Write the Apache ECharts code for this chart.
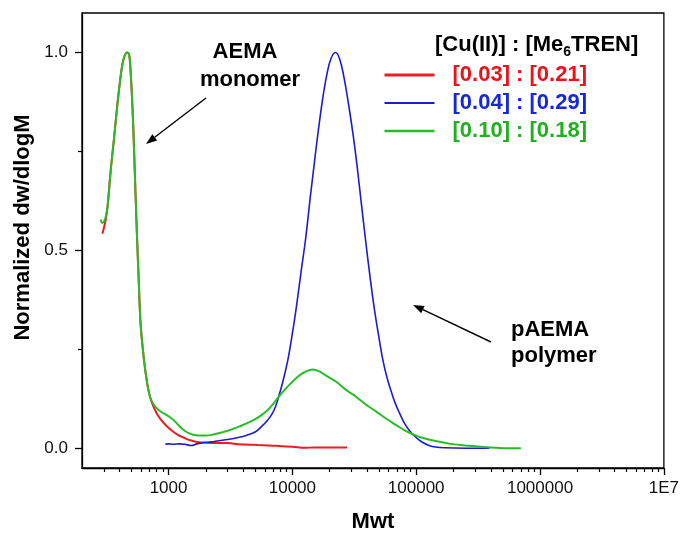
<!DOCTYPE html>
<html>
<head>
<meta charset="utf-8">
<script src="https://cdn.jsdelivr.net/npm/echarts@6/dist/echarts.min.js"></script>
<style>
  html, body { margin: 0; padding: 0; background: #fff; }
  #chart { width: 682px; height: 538px; }
</style>
</head>
<body>
<div id="chart"></div>
<script>
// GPC traces: [molecular weight, normalized dw/dlogM]
const redTrace = [
  [292, 0.542], [300, 0.556], [311, 0.578], [322, 0.612], [340, 0.698], [362, 0.780],
  [385, 0.865], [410, 0.940], [422, 0.966], [440, 0.990], [463, 1.000], [480, 0.995],
  [492, 0.960], [508, 0.880], [523, 0.781], [540, 0.650], [557, 0.530], [575, 0.420],
  [593, 0.320], [620, 0.250], [650, 0.195], [680, 0.155], [713, 0.127], [760, 0.103],
  [810, 0.086], [880, 0.070], [960, 0.057], [1060, 0.045], [1200, 0.033], [1320, 0.027],
  [1500, 0.020], [1700, 0.016], [2000, 0.014], [2500, 0.013], [3000, 0.013], [3700, 0.010],
  [4500, 0.009], [5300, 0.008], [6500, 0.007], [8200, 0.005], [10000, 0.004], [12600, 0.001],
  [15000, 0.002], [20000, 0.002], [27600, 0.002]
];
const blueTrace = [
  [940, 0.010], [1000, 0.011], [1100, 0.010], [1220, 0.011], [1350, 0.010], [1520, 0.007],
  [1700, 0.011], [1900, 0.014], [2200, 0.016], [2550, 0.019], [3000, 0.022], [3650, 0.027],
  [4300, 0.033], [5000, 0.041], [5650, 0.055], [6200, 0.068], [6800, 0.085], [7300, 0.105],
  [7750, 0.130], [8400, 0.170], [9150, 0.220], [10000, 0.290], [10800, 0.360], [11800, 0.450],
  [12800, 0.530], [13900, 0.630], [14900, 0.710], [16000, 0.790], [17500, 0.880], [19000, 0.945],
  [20500, 0.985], [22300, 1.000], [24000, 0.985], [26000, 0.940], [28400, 0.870], [31000, 0.790],
  [33400, 0.710], [36000, 0.620], [39200, 0.520], [42500, 0.430], [46000, 0.350], [50000, 0.280],
  [54000, 0.220], [58500, 0.175], [63600, 0.138], [68000, 0.112], [73000, 0.090], [80000, 0.064],
  [88000, 0.045], [96000, 0.032], [105000, 0.021], [115000, 0.013], [127000, 0.007],
  [143000, 0.003], [170000, 0.001], [250000, 0.000], [390000, 0.000]
];
const greenTrace = [
  [283, 0.578], [292, 0.569], [303, 0.575], [311, 0.585], [322, 0.612], [340, 0.698],
  [362, 0.780], [385, 0.865], [410, 0.940], [422, 0.966], [440, 0.990], [463, 1.000],
  [480, 0.995], [492, 0.960], [508, 0.880], [523, 0.781], [540, 0.650], [557, 0.530],
  [575, 0.420], [593, 0.320], [620, 0.250], [650, 0.195], [680, 0.155], [713, 0.127],
  [760, 0.110], [810, 0.100], [880, 0.091], [950, 0.085], [1020, 0.079], [1100, 0.071],
  [1180, 0.061], [1280, 0.050], [1400, 0.041], [1550, 0.035], [1750, 0.032], [2000, 0.032],
  [2250, 0.034], [2700, 0.040], [3200, 0.047], [3800, 0.056], [4500, 0.066], [5300, 0.078],
  [6300, 0.096], [7000, 0.112], [7750, 0.130], [8800, 0.150], [9800, 0.165], [11000, 0.180],
  [12500, 0.192], [14700, 0.199], [16500, 0.194], [19000, 0.182], [22600, 0.168],
  [27000, 0.148], [32700, 0.130], [39000, 0.111], [47300, 0.093], [57000, 0.075],
  [68500, 0.059], [80000, 0.046], [93000, 0.036], [110000, 0.027], [143000, 0.018],
  [190000, 0.011], [266000, 0.006], [350000, 0.003], [450000, 0.001], [560000, 0.000],
  [700000, 0.000]
];

const seriesNames = ['[0.03] : [0.21]', '[0.04] : [0.29]', '[0.10] : [0.18]'];
const seriesColors = ['#EC1C24', '#1C1CCF', '#27BD27'];
const seriesTextColors = ['#E8141C', '#1428DC', '#20B020'];

const xTickValues = [1000, 10000, 100000, 1000000, 10000000];
const xTickLabels = ['1000', '10000', '100000', '1000000', '1E7'];
const xMinorTicks = [300, 400, 500, 600, 700, 800, 900,
  2000, 3000, 4000, 5000, 6000, 7000, 8000, 9000,
  20000, 30000, 40000, 50000, 60000, 70000, 80000, 90000,
  200000, 300000, 400000, 500000, 600000, 700000, 800000, 900000,
  2000000, 3000000, 4000000, 5000000, 6000000, 7000000, 8000000, 9000000];
const yTickValues = [0, 0.5, 1.0];
const yMinorTicks = [0.25, 0.75];

const FONT = '"Liberation Sans", Arial, Helvetica, sans-serif';

const chart = echarts.init(document.getElementById('chart'), null, { renderer: 'canvas' });

function labelFor(v) {
  let best = 0;
  for (let i = 1; i < xTickValues.length; i++) {
    if (Math.abs(Math.log10(v) - Math.log10(xTickValues[i])) <
        Math.abs(Math.log10(v) - Math.log10(xTickValues[best]))) best = i;
  }
  return xTickLabels[best];
}

// arrow drawn as a line with a filled head at (x2, y2)
function arrow(x1, y1, x2, y2) {
  const ang = Math.atan2(y2 - y1, x2 - x1);
  const L = 11, W = 4;
  const bx = x2 - L * Math.cos(ang), by = y2 - L * Math.sin(ang);
  const px = -Math.sin(ang) * W, py = Math.cos(ang) * W;
  return [
    { type: 'line', shape: { x1: x1, y1: y1, x2: bx, y2: by },
      style: { stroke: '#000', lineWidth: 1.4 }, z: 50 },
    { type: 'polygon', shape: { points: [[x2, y2], [bx + px, by + py], [bx - px, by - py]] },
      style: { fill: '#000' }, z: 50 }
  ];
}

function note(text, x, y, align) {
  return { type: 'text', z: 50,
    style: { text: text, x: x, y: y, fill: '#000', align: align,
      verticalAlign: 'middle', font: 'bold 22px ' + FONT } };
}

const option = {
  backgroundColor: '#fff',
  animation: false,
  grid: { left: 82, right: 16, top: 13, bottom: 66, show: true,
    borderColor: '#000', borderWidth: 1.3, backgroundColor: 'transparent' },
  title: {
    text: '{b|[Cu(II)] : [Me}{s|6}{b|TREN]}',
    left: 435, top: 31, padding: 0,
    textStyle: {
      rich: {
        b: { fontSize: 22, fontWeight: 'bold', fontFamily: FONT, color: '#000', lineHeight: 28 },
        s: { fontSize: 14, fontWeight: 'bold', fontFamily: FONT, color: '#000', lineHeight: 14, verticalAlign: 'bottom' }
      }
    }
  },
  legend: {
    orient: 'vertical', left: 383, top: 64, padding: 0,
    itemWidth: 50, itemHeight: 14, itemGap: 6,
    selectedMode: false,
    textStyle: { fontSize: 22, fontWeight: 'bold', fontFamily: FONT, lineHeight: 22, padding: [0, 0, 0, 13] },
    data: seriesNames.map((n, i) => ({ name: n, textStyle: { color: seriesTextColors[i] },
      itemStyle: { opacity: 0 },
      lineStyle: { width: i === 0 ? 3 : (i === 1 ? 2 : 2.5) } }))
  },
  xAxis: [
    {
      type: 'log', logBase: 10, min: 200, max: 1e7, gridIndex: 0, position: 'bottom',
      name: 'Mwt', nameLocation: 'middle', nameGap: 43,
      nameTextStyle: { fontSize: 22, fontWeight: 'bold', fontFamily: FONT, color: '#000' },
      axisLine: { show: true, onZero: false, lineStyle: { color: '#000', width: 1.3 } },
      axisTick: { show: true, inside: false, length: 7, customValues: xTickValues,
        lineStyle: { color: '#000', width: 1.3 } },
      axisLabel: { show: true, customValues: xTickValues, margin: 12, fontSize: 17,
        fontFamily: FONT, color: '#111', formatter: (v) => labelFor(v) },
      splitLine: { show: false }, minorTick: { show: false }
    },
    {
      type: 'log', logBase: 10, min: 200, max: 1e7, gridIndex: 0, position: 'bottom',
      axisLine: { show: false, onZero: false },
      axisTick: { show: true, inside: false, length: 4, customValues: xMinorTicks,
        lineStyle: { color: '#000', width: 1.2 } },
      axisLabel: { show: false }, splitLine: { show: false }
    }
  ],
  yAxis: [
    {
      type: 'value', min: -0.05, max: 1.1, gridIndex: 0, position: 'left',
      name: 'Normalized dw/dlogM', nameLocation: 'middle', nameGap: 44, nameRotate: 90,
      nameTextStyle: { fontSize: 22, fontWeight: 'bold', fontFamily: FONT, color: '#000',
        padding: [0, 0, 0, 26] },
      axisLine: { show: true, onZero: false, lineStyle: { color: '#000', width: 1.3 } },
      axisTick: { show: true, inside: false, length: 7, customValues: yTickValues,
        lineStyle: { color: '#000', width: 1.3 } },
      axisLabel: { show: true, customValues: yTickValues, margin: 14, fontSize: 17,
        fontFamily: FONT, color: '#111', formatter: (v) => v.toFixed(1) },
      splitLine: { show: false }
    },
    {
      type: 'value', min: -0.05, max: 1.1, gridIndex: 0, position: 'left',
      axisLine: { show: false, onZero: false },
      axisTick: { show: true, inside: false, length: 4, customValues: yMinorTicks,
        lineStyle: { color: '#000', width: 1.2 } },
      axisLabel: { show: false }, splitLine: { show: false }
    }
  ],
  series: [redTrace, blueTrace, greenTrace].map((d, i) => ({
    name: seriesNames[i], type: 'line', xAxisIndex: 0, yAxisIndex: 0,
    data: d, showSymbol: false, symbol: 'none',
    smooth: 0.4,
    lineStyle: { color: seriesColors[i], width: i === 1 ? 1.6 : 2 },
    itemStyle: { color: seriesColors[i] },
    z: 2 + i
  })),
  graphic: [
    note('AEMA', 245, 52, 'center'),
    note('monomer', 250, 80, 'center'),
    note('pAEMA', 511, 330, 'left'),
    note('polymer', 511, 356, 'left'),
    ...arrow(206, 98, 146, 144),
    ...arrow(491, 342, 413, 305)
  ]
};

chart.setOption(option);
</script>
</body>
</html>
